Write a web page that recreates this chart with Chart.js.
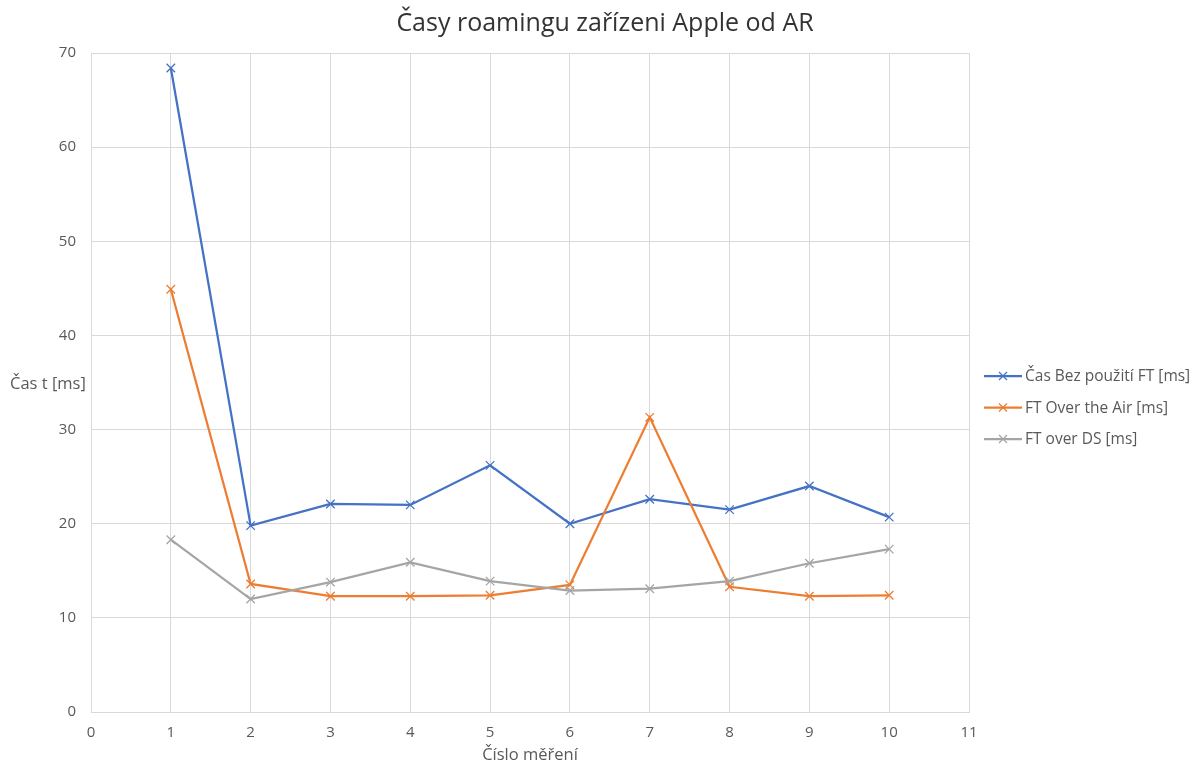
<!DOCTYPE html>
<html>
<head>
<meta charset="utf-8">
<script src="https://cdn.jsdelivr.net/npm/chart.js@4"></script>
<style>
  html, body { margin: 0; padding: 0; background: #fff; }
  #wrap { width: 1194px; height: 766px; position: relative; }
</style>
</head>
<body>
<div id="wrap"><canvas id="c" width="1194" height="766"></canvas></div>
<script>
const titleText  = 'Časy roamingu zařízeni Apple od AR'
const xTitle     = 'Číslo měření'
const yTitle     = 'Čas t [ms]'
const xValues    = [1, 2, 3, 4, 5, 6, 7, 8, 9, 10]
const seriesNames = ['Čas Bez použití FT [ms]', 'FT Over the Air [ms]', 'FT over DS [ms]']
const bezFT      = [68.4, 19.8, 22.1, 22.0, 26.2, 20.0, 22.6, 21.5, 24.0, 20.7]
const overAir    = [44.9, 13.6, 12.3, 12.3, 12.4, 13.5, 31.3, 13.3, 12.3, 12.4]
const overDS     = [18.3, 12.0, 13.8, 15.9, 13.9, 12.9, 13.1, 13.9, 15.8, 17.3]
const colors     = ['#4472C4', '#ED7D31', '#A5A5A5']

const FONT = "'Open Sans', 'Liberation Sans', sans-serif"
const TXT  = '#595959'

const toPoints = vals => vals.map((v, i) => ({ x: xValues[i], y: v }))

const extras = {
  id: 'extras',
  afterDraw(chart) {
    const ctx = chart.ctx
    ctx.save()
    // title
    ctx.fillStyle = '#333333'
    ctx.font = `25px ${FONT}`
    ctx.textAlign = 'center'
    ctx.textBaseline = 'middle'
    ctx.fillText(titleText, 605, 24)
    // horizontal y title
    ctx.fillStyle = TXT
    ctx.font = `16.5px ${FONT}`
    ctx.textAlign = 'left'
    ctx.fillText(yTitle, 10, 384)
    // legend
    ctx.font = `15.5px ${FONT}`
    seriesNames.forEach((name, i) => {
      const y = 376 + i * 31.5
      ctx.strokeStyle = colors[i]
      ctx.lineWidth = 2.25
      ctx.beginPath(); ctx.moveTo(984, y); ctx.lineTo(1022, y); ctx.stroke()
      ctx.lineWidth = 1.2
      ctx.beginPath()
      ctx.moveTo(999, y - 4); ctx.lineTo(1007, y + 4)
      ctx.moveTo(1007, y - 4); ctx.lineTo(999, y + 4)
      ctx.stroke()
      ctx.fillStyle = TXT
      ctx.fillText(name, 1025, y + 1)
    })
    ctx.restore()
  }
}

new Chart(document.getElementById('c'), {
  type: 'line',
  data: {
    datasets: [bezFT, overAir, overDS].map((vals, i) => ({
      label: seriesNames[i],
      data: toPoints(vals),
      borderColor: colors[i],
      backgroundColor: colors[i],
      borderWidth: 2.25,
      pointStyle: 'crossRot',
      pointRadius: 6,
      pointBorderWidth: 1.3,
      tension: 0
    })).reverse()
  },
  options: {
    responsive: false,
    animation: false,
    layout: { padding: { top: 53, right: 225, left: 0, bottom: 0 } },
    plugins: { legend: { display: false }, tooltip: { enabled: false } },
    scales: {
      x: {
        type: 'linear', min: 0, max: 11,
        ticks: { stepSize: 1, color: TXT, font: { family: FONT, size: 15 }, padding: 12 },
        grid: { color: '#d9d9d9', drawTicks: false },
        border: { color: '#d9d9d9' },
        title: { display: true, text: xTitle, color: TXT, font: { family: FONT, size: 16.5 }, padding: { top: 0, bottom: 1 } },
        afterFit(s) { s.height = 54 }
      },
      y: {
        min: 0, max: 70,
        ticks: { stepSize: 10, color: TXT, font: { family: FONT, size: 15 }, padding: 15 },
        grid: { color: '#d9d9d9', drawTicks: false },
        border: { display: false },
        afterFit(s) { s.width = 91 }
      }
    }
  },
  plugins: [extras]
})
</script>
</body>
</html>
